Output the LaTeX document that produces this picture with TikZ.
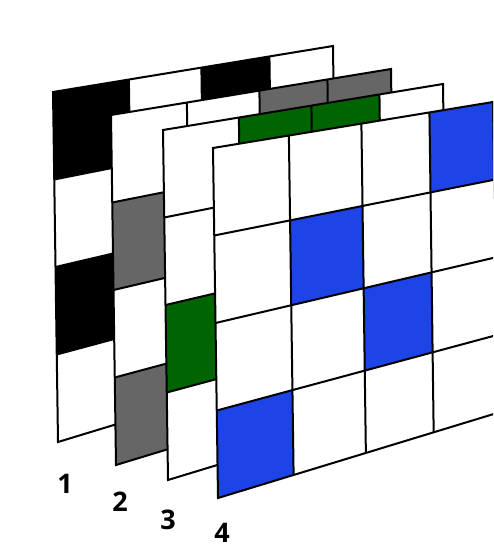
\documentclass[tikz,border=0pt]{standalone}
\usepackage{fontspec}
\setsansfont{Open Sans}
\usetikzlibrary{calc}
\definecolor{cellgray}{HTML}{666666}
\definecolor{cellgreen}{HTML}{006400}
\definecolor{cellblue}{HTML}{1C44E6}
\begin{document}
\begin{tikzpicture}[x=1pt, y=-1pt,
    gridline/.style={draw=black, line width=2pt},
    outline/.style={draw=black, line width=2pt, line join=miter},
    num/.style={font=\sffamily\bfseries\fontsize{27}{27}\selectfont, inner sep=0pt, anchor=center},
  ]
  \useasboundingbox (0,0) rectangle (493,551);
  \clip (0,0) rectangle (493,551);
  % layers back to front: number/left/top/colour/cells (row/column)
  \foreach \k/\x/\y/\fillc/\cells in {
      1/53/92/black/{0/0,0/2,2/0},
      2/111/115/cellgray/{0/2,0/3,1/0,3/0},
      3/163/130/cellgreen/{0/1,0/2,2/0},
      4/213/148/cellblue/{0/3,1/1,2/2,3/0}}{
    \coordinate (tl) at (\x,\y);
    \coordinate (tr) at (\x+280,\y-46);
    \coordinate (bl) at (\x+5,\y+350);
    \coordinate (br) at (\x+284,\y+265);
    \fill[white] (tl) -- (tr) -- (br) -- (bl) -- cycle;
    \foreach \r/\c in \cells {
      \pgfmathsetmacro{\sa}{{0,0.271,0.530,0.773,1}[\c]}
      \pgfmathsetmacro{\sb}{{0,0.271,0.530,0.773,1}[\c+1]}
      \pgfmathsetmacro{\ta}{\r/4}
      \pgfmathsetmacro{\tb}{(\r+1)/4}
      \fill[\fillc] ($($(tl)!\sa!(tr)$)!\ta!($(bl)!\sa!(br)$)$)
        -- ($($(tl)!\sb!(tr)$)!\ta!($(bl)!\sb!(br)$)$)
        -- ($($(tl)!\sb!(tr)$)!\tb!($(bl)!\sb!(br)$)$)
        -- ($($(tl)!\sa!(tr)$)!\tb!($(bl)!\sa!(br)$)$) -- cycle;
    }
    \foreach \s in {0.271,0.530,0.773}
      \draw[gridline] ($(tl)!\s!(tr)$) -- ($(bl)!\s!(br)$);
    \foreach \t in {0.25,0.5,0.75}
      \draw[gridline] ($(tl)!\t!(bl)$) -- ($(tr)!\t!(br)$);
    \draw[outline] (tl) -- (tr) -- (br) -- (bl) -- cycle;
  }
  \node[num] (n1) at (65,484) {1};
  \node[num] (n2) at (120,502) {2};
  \node[num] (n3) at (168,520) {3};
  \node[num] (n4) at (222,533) {4};
\end{tikzpicture}
\end{document}
